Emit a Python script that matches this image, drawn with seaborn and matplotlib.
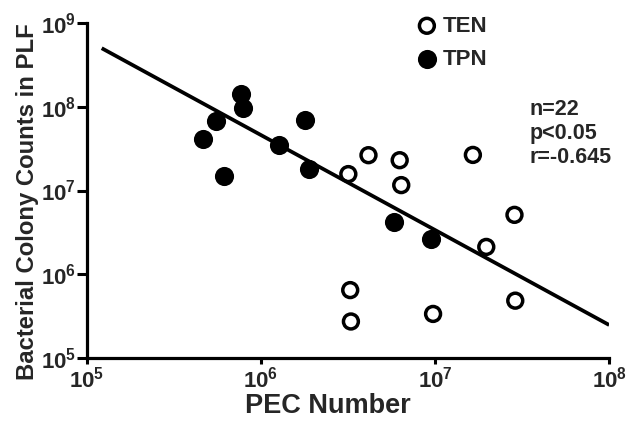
import numpy as np
import pandas as pd
import matplotlib
matplotlib.use("Agg")
import matplotlib.pyplot as plt
import seaborn as sns

# Peritoneal exudate cell (PEC) number vs bacterial colony counts in peritoneal lavage fluid
ten_pec = [4.15e6, 6.27e6, 6.40e6, 3.18e6, 1.65e7, 2.86e7, 1.97e7, 3.26e6, 3.29e6, 9.75e6, 2.89e7]
ten_cfu = [2.64e7, 2.30e7, 1.16e7, 1.57e7, 2.66e7, 5.12e6, 2.12e6, 6.47e5, 2.73e5, 3.36e5, 4.84e5]
tpn_pec = [7.7e5, 7.95e5, 5.53e5, 4.68e5, 6.18e5, 1.80e6, 1.27e6, 1.90e6, 5.83e6, 9.5e6]
tpn_cfu = [1.43e8, 9.7e7, 6.74e7, 4.08e7, 1.50e7, 6.92e7, 3.47e7, 1.83e7, 4.2e6, 2.65e6]

# regression line end points
fit_pec = [1.22e5, 1.0e8]
fit_cfu = [5.0e8, 2.48e5]

x_ticks = [1e5, 1e6, 1e7, 1e8]
x_tick_labels = [r"$10^{5}$", r"$10^{6}$", r"$10^{7}$", r"$10^{8}$"]
y_ticks = [1e5, 1e6, 1e7, 1e8, 1e9]
y_tick_labels = [r"$10^{5}$", r"$10^{6}$", r"$10^{7}$", r"$10^{8}$", r"$10^{9}$"]

stats_text = "n=22\np<0.05\nr=-0.645"

df = pd.concat([
    pd.DataFrame({"pec": ten_pec, "cfu": ten_cfu, "group": "TEN"}),
    pd.DataFrame({"pec": tpn_pec, "cfu": tpn_cfu, "group": "TPN"}),
], ignore_index=True)

sns.set_style("white")
plt.rcParams["font.family"] = ["Liberation Sans", "DejaVu Sans"]
plt.rcParams["font.weight"] = "bold"
plt.rcParams["mathtext.fontset"] = "custom"
plt.rcParams["mathtext.rm"] = "Liberation Sans:bold"
plt.rcParams["mathtext.bf"] = "Liberation Sans:bold"
plt.rcParams["mathtext.it"] = "Liberation Sans:bold"

fig = plt.figure(figsize=(6.28, 4.21), dpi=100)
ax = fig.add_axes([0.138, 0.1496, 0.832, 0.7958])

ax.plot(fit_pec, fit_cfu, color="black", lw=2.7, zorder=2, solid_capstyle="butt")

sns.scatterplot(data=df[df.group == "TEN"], x="pec", y="cfu", ax=ax,
                marker="o", s=115, facecolor="none", edgecolor="black",
                linewidth=2.5, label="TEN", zorder=3)
sns.scatterplot(data=df[df.group == "TPN"], x="pec", y="cfu", ax=ax,
                marker="o", s=190, color="black", linewidth=0,
                label="TPN", zorder=3)

ax.set_xscale("log")
ax.set_yscale("log")
ax.set_xlim(1e5, 1e8)
ax.set_ylim(1e5, 1e9)
ax.minorticks_off()
ax.set_xticks(x_ticks, x_tick_labels)
ax.set_yticks(y_ticks, y_tick_labels)

for side in ["top", "right"]:
    ax.spines[side].set_visible(False)
for side in ["left", "bottom"]:
    ax.spines[side].set_linewidth(2.3)
    ax.spines[side].set_color("black")

ax.tick_params(axis="y", which="major", length=7, width=2.2, pad=0.5,
               labelsize=16, left=True, color="black")
ax.tick_params(axis="x", which="major", length=4, width=2.2, pad=2,
               labelsize=16, bottom=True, color="black")

ax.set_xlabel("PEC Number", fontsize=19.5, fontweight="bold", va="center")
ax.xaxis.set_label_coords(0.461, -0.143)
ax.set_ylabel("Bacterial Colony Counts in PLF", fontsize=17.2, fontweight="bold", va="center")
ax.yaxis.set_label_coords(-0.1124, 0.466)

ax.text(0.847, 0.772, stats_text, transform=ax.transAxes, ha="left", va="top",
        fontsize=15.5, fontweight="bold", linespacing=1.18)

leg = ax.legend(loc="upper left", bbox_to_anchor=(0.632, 1.022), frameon=False,
                fontsize=16, handlelength=0.9, handletextpad=0.25,
                labelspacing=0.55, borderpad=0, borderaxespad=0)
for t in leg.get_texts():
    t.set_fontweight("bold")

fig.savefig("out.png", dpi=100)
